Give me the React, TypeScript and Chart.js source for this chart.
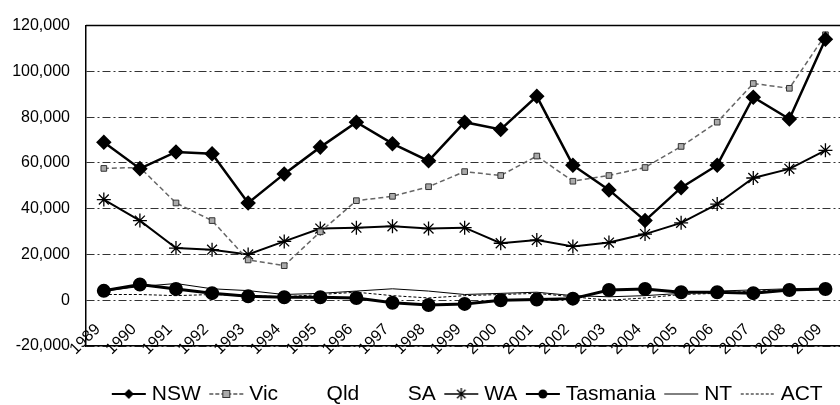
import { useEffect, useRef } from 'react';
import { Chart, registerables } from 'chart.js';

Chart.register(...registerables);

const FONT = "'Liberation Sans', Arial, sans-serif";

const years = [1989, 1990, 1991, 1992, 1993, 1994, 1995, 1996, 1997, 1998, 1999, 2000, 2001, 2002, 2003, 2004, 2005, 2006, 2007, 2008, 2009];

const nsw = [69000, 57500, 64800, 64000, 42500, 55200, 66900, 77800, 68400, 60900, 77800, 74600, 89100, 59000, 48200, 34800, 49200, 59000, 88700, 79200, 114000];
const vic = [57600, 58000, 42500, 34800, 17600, 15100, 29900, 43500, 45400, 49600, 56200, 54500, 63000, 52000, 54500, 58000, 67200, 77800, 94700, 92600, 116000];
const qld: (number | null)[] = years.map(() => null);
const sa: (number | null)[] = years.map(() => null);
const wa = [44000, 34800, 22800, 22100, 20000, 25700, 31300, 31700, 32300, 31300, 31700, 24900, 26300, 23500, 25200, 28900, 33800, 42000, 53400, 57400, 65500];
const tas = [4100, 6900, 4900, 3100, 1700, 1300, 1300, 1000, -1100, -2100, -1600, 0, 300, 700, 4500, 4900, 3500, 3500, 3100, 4500, 4900];
const nt = [4000, 6000, 7300, 5000, 4200, 2500, 3000, 4000, 5000, 4000, 2500, 3000, 3500, 2000, 1500, 2000, 3000, 4000, 4500, 5000, 5000];
const act = [2500, 2500, 2000, 2500, 2000, 1500, 2500, 3500, 2000, 1000, 2000, 2500, 3000, 1500, 0, 1000, 2500, 3000, 4000, 4500, 5000];

const seriesNames = ['NSW', 'Vic', 'Qld', 'SA', 'WA', 'Tasmania', 'NT', 'ACT'];

type IconKind = 'nsw' | 'vic' | 'none' | 'wa' | 'tas' | 'nt' | 'act';
const iconKinds: IconKind[] = ['nsw', 'vic', 'none', 'none', 'wa', 'tas', 'nt', 'act'];

function makeIcon(kind: IconKind): HTMLCanvasElement {
  const c = document.createElement('canvas');
  c.width = 46;
  c.height = 16;
  const ctx = c.getContext('2d')!;
  const x0 = 10, x1 = 44, cy = 8, cx = 27;
  const line = (w: number, color: string, dash: number[]) => {
    ctx.save();
    ctx.strokeStyle = color;
    ctx.lineWidth = w;
    ctx.setLineDash(dash);
    ctx.beginPath();
    ctx.moveTo(x0, cy);
    ctx.lineTo(x1, cy);
    ctx.stroke();
    ctx.restore();
  };
  if (kind === 'nsw') {
    line(2, '#000', []);
    ctx.fillStyle = '#000';
    ctx.beginPath();
    ctx.moveTo(cx, cy - 5);
    ctx.lineTo(cx + 5, cy);
    ctx.lineTo(cx, cy + 5);
    ctx.lineTo(cx - 5, cy);
    ctx.closePath();
    ctx.fill();
  } else if (kind === 'vic') {
    line(1.5, '#555', [4, 2]);
    ctx.fillStyle = '#aaa';
    ctx.strokeStyle = '#333';
    ctx.lineWidth = 1;
    ctx.fillRect(cx - 3.5, cy - 3.5, 7, 7);
    ctx.strokeRect(cx - 3.5, cy - 3.5, 7, 7);
  } else if (kind === 'wa') {
    line(1.5, '#000', []);
    ctx.strokeStyle = '#000';
    ctx.lineWidth = 1.3;
    ctx.beginPath();
    const r = 6;
    ctx.moveTo(cx - r * 0.7, cy - r * 0.7); ctx.lineTo(cx + r * 0.7, cy + r * 0.7);
    ctx.moveTo(cx + r * 0.7, cy - r * 0.7); ctx.lineTo(cx - r * 0.7, cy + r * 0.7);
    ctx.moveTo(cx, cy - r); ctx.lineTo(cx, cy + r);
    ctx.stroke();
  } else if (kind === 'tas') {
    line(2, '#000', []);
    ctx.fillStyle = '#000';
    ctx.beginPath();
    ctx.arc(cx, cy, 4.5, 0, Math.PI * 2);
    ctx.fill();
  } else if (kind === 'nt') {
    line(1, '#000', []);
  } else if (kind === 'act') {
    line(1, '#000', [3, 2]);
  }
  return c;
}

export default function App() {
  const ref = useRef<HTMLCanvasElement>(null);

  useEffect(() => {
    if (!ref.current) return;
    Chart.defaults.color = '#000';
    Chart.defaults.font.family = FONT;

    const toXY = (vals: (number | null)[]) => years.map((yr, i) => ({ x: yr, y: vals[i] }));
    const icons = iconKinds.map(makeIcon);

    const topBorder = {
      id: 'topBorder',
      beforeDatasetsDraw(chart: any) {
        const { ctx, chartArea } = chart;
        ctx.save();
        ctx.strokeStyle = '#000';
        ctx.lineWidth = 1.5;
        ctx.beginPath();
        ctx.moveTo(chartArea.left, chartArea.top);
        ctx.lineTo(chartArea.right, chartArea.top);
        ctx.stroke();
        ctx.restore();
      },
    };

    const chart = new Chart(ref.current, {
      type: 'line',
      data: {
        datasets: [
          {
            label: seriesNames[0], data: toXY(nsw), borderColor: '#000', borderWidth: 2.5,
            pointStyle: 'rectRot', pointRadius: 6, pointBackgroundColor: '#000', pointBorderColor: '#000',
          },
          {
            label: seriesNames[1], data: toXY(vic), borderColor: '#666', borderWidth: 1.5, borderDash: [5, 3],
            pointStyle: 'rect', pointRadius: 4, pointBackgroundColor: '#aaa', pointBorderColor: '#333', pointBorderWidth: 1,
          },
          { label: seriesNames[2], data: toXY(qld), borderColor: 'rgba(0,0,0,0)', pointRadius: 0 },
          { label: seriesNames[3], data: toXY(sa), borderColor: 'rgba(0,0,0,0)', pointRadius: 0 },
          {
            label: seriesNames[4], data: toXY(wa), borderColor: '#000', borderWidth: 2,
            pointStyle: 'star', pointRadius: 7, pointBorderColor: '#000', pointBorderWidth: 1.3,
          },
          {
            label: seriesNames[5], data: toXY(tas), borderColor: '#000', borderWidth: 3,
            pointStyle: 'circle', pointRadius: 5.5, pointBackgroundColor: '#000', pointBorderColor: '#000',
          },
          { label: seriesNames[6], data: toXY(nt), borderColor: '#000', borderWidth: 1, pointRadius: 0 },
          { label: seriesNames[7], data: toXY(act), borderColor: '#000', borderWidth: 1, borderDash: [3, 2], pointRadius: 0 },
        ] as any,
      },
      options: {
        responsive: false,
        animation: false,
        devicePixelRatio: 1,
        layout: { padding: { top: 15, left: 0, right: 0, bottom: 5.5 } },
        plugins: {
          tooltip: { enabled: false },
          legend: {
            position: 'bottom',
            labels: {
              usePointStyle: true,
              pointStyleWidth: 33,
              padding: 5,
              color: '#000',
              font: { size: 21, family: FONT },
              generateLabels: (ch: any) =>
                ch.data.datasets.map((ds: any, i: number) => ({
                  text: ds.label,
                  pointStyle: icons[i],
                  datasetIndex: i,
                  hidden: false,
                  fillStyle: 'rgba(0,0,0,0)',
                  strokeStyle: 'rgba(0,0,0,0)',
                  lineWidth: 0,
                  fontColor: '#000',
                })),
            },
          },
        },
        scales: {
          x: {
            type: 'linear',
            min: 1988.506,
            max: 2011.69,
            grid: { display: false },
            border: { display: true, color: '#000', width: 1.5 },
            ticks: {
              autoSkip: false,
              minRotation: 45,
              maxRotation: 45,
              padding: -34,
              labelOffset: -6,
              color: '#000',
              font: { size: 16, family: FONT },
              callback: (v: any) => String(v),
            },
            afterBuildTicks: (s: any) => {
              s.ticks = years.map((v) => ({ value: v }));
            },
            afterFit: (s: any) => {
              s.height = 32.5;
              s.paddingLeft = 0;
              s.paddingRight = 0;
              s._computeLabelArea = () => undefined;
            },
          },
          y: {
            min: -20000,
            max: 120000,
            ticks: {
              stepSize: 20000,
              padding: 16,
              color: '#000',
              font: { size: 16, family: FONT },
              callback: (v: any) => Number(v).toLocaleString('en-US'),
            },
            grid: { color: '#333', lineWidth: 1, drawTicks: false },
            border: { display: true, color: '#000', width: 1.5, dash: [8, 3, 2, 3] },
            afterFit: (s: any) => {
              s.width = 86;
            },
          },
        },
      } as any,
      plugins: [topBorder],
    });
    return () => chart.destroy();
  }, []);

  return (
    <div style={{ position: 'fixed', left: 0, top: 0, width: 840, height: 405, overflow: 'hidden', background: '#fff' }}>
      <canvas ref={ref} width={931} height={420} style={{ display: 'block', width: 931, height: 420 }} />
    </div>
  );
}
